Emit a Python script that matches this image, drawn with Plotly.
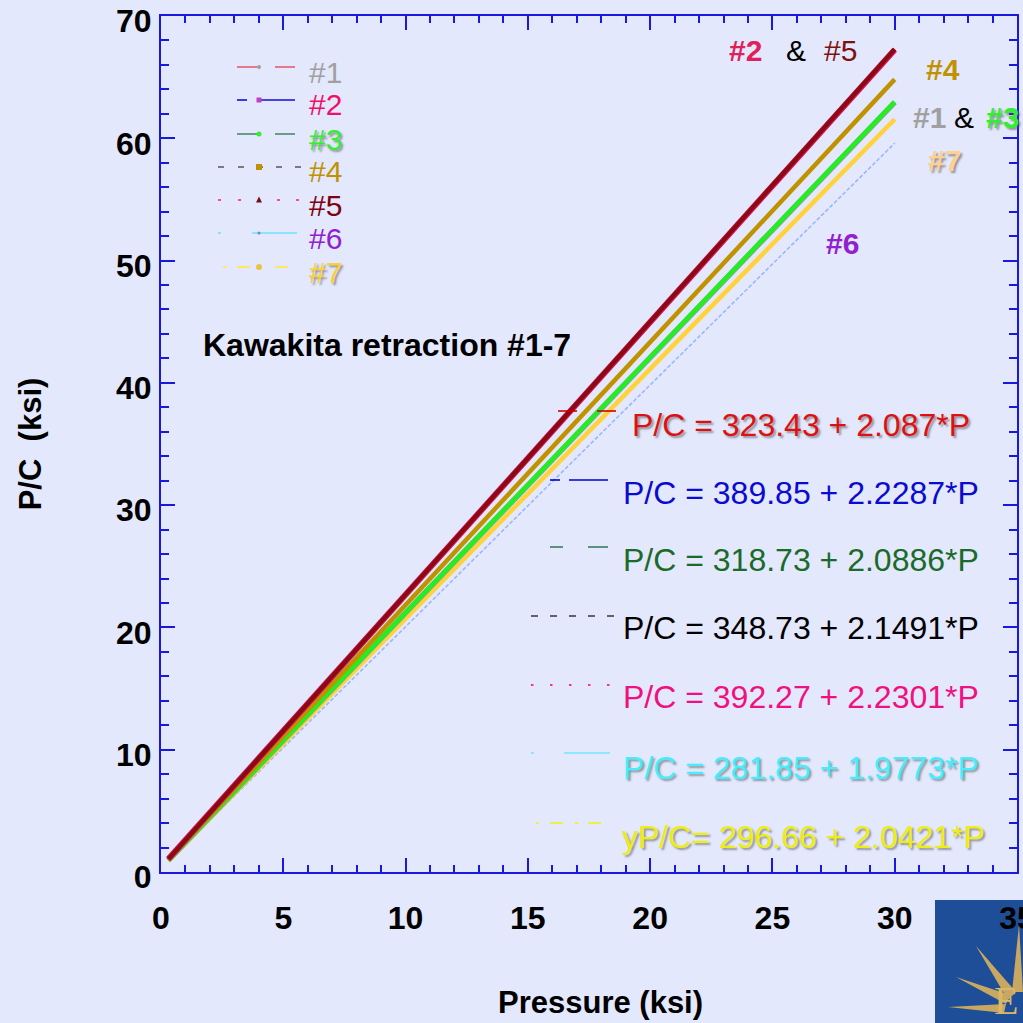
import plotly.graph_objects as go

# ---------------- data ----------------
P = [0.3, 5, 10, 15, 20, 25, 30]  # Pressure (ksi)
pc_1 = [0.95, 10.76, 21.19, 31.63, 42.06, 52.50, 62.93]
pc_2 = [1.06, 11.53, 22.68, 33.82, 44.96, 56.11, 67.25]
pc_3 = [0.95, 10.76, 21.21, 31.65, 42.09, 52.53, 62.98]
pc_4 = [0.99, 11.09, 21.84, 32.59, 43.33, 54.08, 64.82]
pc_5 = [1.06, 11.54, 22.69, 33.84, 44.99, 56.15, 67.30]
pc_6 = [0.88, 10.17, 20.06, 29.94, 39.83, 49.71, 59.60]
pc_7 = [0.91, 10.51, 20.72, 30.93, 41.14, 51.35, 61.56]
series_names = ["#1", "#2", "#3", "#4", "#5", "#6", "#7"]
equations = [
    "P/C = 323.43 + 2.087*P",
    "P/C = 389.85 + 2.2287*P",
    "P/C = 318.73 + 2.0886*P",
    "P/C = 348.73 + 2.1491*P",
    "P/C = 392.27 + 2.2301*P",
    "P/C = 281.85 + 1.9773*P",
    "yP/C= 296.66 + 2.0421*P",
]
x_ticks = [0, 5, 10, 15, 20, 25, 30, 35]
y_ticks = [0, 10, 20, 30, 40, 50, 60, 70]
chart_note = "Kawakita retraction #1-7"
x_title = "Pressure (ksi)"
y_title = "P/C  (ksi)"

series = dict(zip(series_names, [pc_1, pc_2, pc_3, pc_4, pc_5, pc_6, pc_7]))

# ---------------- geometry helpers (pixel -> paper) ----------------
L, R, T, B = 161, 1017, 16, 872
W, H = R - L, B - T


def px(x):
    return (x - L) / W


def py(y):
    return (B - y) / H


FONT = "Liberation Sans, Arial, Helvetica, sans-serif"
BG = "#E3E8FC"
AX = "#1818E0"
SHADOW = "2px 2px 2px rgba(80,80,80,0.55)"

fig = go.Figure()

# draw order & line styles of the plotted data curves
line_styles = {
    "#6": dict(color="#9CB8F2", width=1.6, dash="4px,2px"),
    "#7": dict(color="#FFD23C", width=4.5),
    "#1": dict(color="#9A9A9A", width=5.5),
    "#3": dict(color="#22EE22", width=4.5),
    "#4": dict(color="#C09200", width=4.5),
    "#2": dict(color="#D8145A", width=6),
    "#5": dict(color="#8A0A14", width=4.2),
}
for name in ["#6", "#7", "#1", "#3", "#4", "#2", "#5"]:
    fig.add_trace(go.Scatter(x=P, y=series[name], mode="lines", name=name,
                             line=line_styles[name], showlegend=False))

shapes = []
annotations = []


def seg(x0, x1, y, color, width=1.6):
    shapes.append(dict(type="line", xref="paper", yref="paper",
                       x0=px(x0), x1=px(x1), y0=py(y), y1=py(y),
                       line=dict(color=color, width=width)))


def dot(x, y, color, r=2.5, kind="circle"):
    shapes.append(dict(type=kind, xref="paper", yref="paper",
                       x0=px(x - r), x1=px(x + r), y0=py(y - r), y1=py(y + r),
                       fillcolor=color, line=dict(width=0)))


def text(s, x, y, color, size=30, bold=False, anchor="left", shadow=None, family=FONT):
    f = dict(family=family, size=size, color=color)
    if bold:
        f["weight"] = "bold"
    if shadow:
        f["shadow"] = shadow
    annotations.append(dict(text=s, x=px(x), y=py(y), xref="paper", yref="paper",
                            xanchor=anchor, yanchor="middle", showarrow=False, font=f))


# ---------------- legend (top-left) ----------------
leg_y = [67, 100, 134, 167, 200, 233, 267]
# #1
seg(237, 257, leg_y[0], "#E06070"); seg(275, 295, leg_y[0], "#E06070"); dot(259, leg_y[0], "#A0A0A0", 2)
# #2
seg(237, 247, leg_y[1], "#1010D8"); seg(258, 295, leg_y[1], "#1010D8"); dot(259, leg_y[1], "#C040C0", 2.5, "rect")
# #3
seg(237, 257, leg_y[2], "#4A8A6A"); seg(275, 295, leg_y[2], "#4A8A6A"); dot(259, leg_y[2], "#33EE33", 2.5)
# #4
for x0 in [218, 238, 257, 276, 295]:
    seg(x0, x0 + 6, leg_y[3], "#606060")
dot(259, leg_y[3], "#C09200", 3, "rect")
# #5
for x0 in [218, 238, 277, 296]:
    seg(x0, x0 + 3, leg_y[4], "#FF2090")
shapes.append(dict(type="path", xref="paper", yref="paper",
                   path="M {} {} L {} {} L {} {} Z".format(px(256), py(leg_y[4] + 2.5), px(262), py(leg_y[4] + 2.5),
                                                           px(259), py(leg_y[4] - 3.5)),
                   fillcolor="#7A0A14", line=dict(width=0)))
# #6
seg(218, 221, leg_y[5], "#70E0FF"); seg(252, 297, leg_y[5], "#70E0FF"); dot(259, leg_y[5], "#7090B0", 1.5)
# #7
seg(223, 226, leg_y[6], "#FFE860", 2); seg(237, 250, leg_y[6], "#FFE860", 2)
seg(275, 288, leg_y[6], "#FFE860", 2); dot(259, leg_y[6], "#F0C040", 3)

leg_text_style = [
    dict(color="#A0A0A0"),
    dict(color="#F0106A"),
    dict(color="#33EE33", shadow=SHADOW),
    dict(color="#C09200"),
    dict(color="#800010"),
    dict(color="#9020D0"),
    dict(color="#FFD030", shadow=SHADOW),
]
for name, yy, st in zip(series_names, leg_y, leg_text_style):
    text(name, 307, yy + 5, st["color"], shadow=st.get("shadow"))

# ---------------- note ----------------
text(chart_note, 201, 345, "#000000", size=32, bold=True)

# ---------------- end labels ----------------
text("#2", 727, 51, "#E0205A", bold=True)
text("&", 784, 51, "#000000")
text("#5", 822, 51, "#801010")
text("#4", 924, 70, "#C09200", bold=True)
text("#1", 911, 118, "#A0A0A0", bold=True)
text("&", 952, 118, "#000000")
text("#3", 984, 118, "#33EE33", bold=True, shadow=SHADOW)
text("#7", 926, 160, "#FFD090", bold=True, shadow=SHADOW)
text("#6", 824, 244, "#9020D0", bold=True)

# ---------------- equations with line samples ----------------
eq_y = [425, 493, 560, 628, 697, 768, 837]
eq_x = [630, 621, 621, 621, 621, 621, 620]
eq_style = [
    dict(color="#DD1111", shadow=SHADOW),
    dict(color="#0A0AD0"),
    dict(color="#1A6A2A"),
    dict(color="#000000"),
    dict(color="#F01080"),
    dict(color="#44EEFF", shadow=SHADOW),
    dict(color="#EEEE10", shadow=SHADOW),
]
for s, x, y, st in zip(equations, eq_x, eq_y, eq_style):
    text(s, x, y, st["color"], size=32, shadow=st.get("shadow"))

seg(558, 577, 411, "#D00000"); seg(597, 616, 411, "#D00000")
seg(550, 560, 480, "#0000D0"); seg(569, 608, 480, "#0000D0")
seg(550, 563, 547, "#3A7A5A"); seg(588, 608, 547, "#3A7A5A")
for x0 in [531, 550, 569, 588, 607]:
    seg(x0, x0 + 7, 616, "#404040")
for x0 in [531, 550, 569, 588, 607]:
    seg(x0, x0 + 2.5, 685, "#FF3090", 2)
seg(531, 534, 753, "#70E8FF"); seg(564, 610, 753, "#70E8FF")
seg(536, 539, 823, "#F0F040", 2); seg(550, 563, 823, "#F0F040", 2)
seg(575, 578, 823, "#F0F040", 2); seg(588, 601, 823, "#F0F040", 2)

# ---------------- x axis title ----------------
text(x_title, 600, 1003, "#000000", size=31, bold=True, anchor="center")

# ---------------- logo (bottom-right) ----------------
shapes.append(dict(type="rect", xref="paper", yref="paper", layer="below",
                   x0=px(935), x1=px(1030), y0=py(900), y1=py(1030),
                   fillcolor="#1E4E98", line=dict(width=0)))


def ray(tip, b1, b2):
    path = "M {} {} L {} {} L {} {} Z".format(px(tip[0]), py(tip[1]), px(b1[0]), py(b1[1]),
                                             px(b2[0]), py(b2[1]))
    shapes.append(dict(type="path", xref="paper", yref="paper", layer="below", path=path,
                       fillcolor="#C8A860", line=dict(width=0)))


ray((976, 946), (1008, 1000), (1016, 992))
ray((956, 977), (1006, 1004), (1010, 995))
ray((948, 1007), (1004, 1013), (1006, 1004))
ray((1019, 925), (1012, 992), (1023, 992))
text("E", 1006, 1000, "#D8B868", size=40, anchor="center",
     family="Liberation Serif, Times New Roman, serif")

axis_common = dict(
    showline=True, linecolor=AX, linewidth=2, mirror="ticks",
    ticks="inside", tickcolor=AX, tickwidth=1.5, ticklen=14,
    showgrid=False, zeroline=False, ticklabeloverflow="allow",
    tickfont=dict(family=FONT, size=32, color="#000000", weight="bold"),
    title_font=dict(family=FONT, size=31, color="#000000", weight="bold"),
)

fig.update_layout(
    width=1023, height=1023,
    margin=dict(l=L, r=1023 - R, t=T, b=1023 - B, autoexpand=False),
    paper_bgcolor=BG, plot_bgcolor=BG,
    showlegend=False,
    xaxis=dict(range=[0, 35.0005], tickvals=x_ticks, ticktext=[str(v) for v in x_ticks],
               minor=dict(dtick=1, ticks="inside", ticklen=7, tickcolor=AX, tickwidth=1.5),
               ticklabelstandoff=17, **axis_common),
    yaxis=dict(range=[0, 70.001], tickvals=y_ticks, ticktext=[str(v) for v in y_ticks],
               minor=dict(dtick=2, ticks="inside", ticklen=8, tickcolor=AX, tickwidth=1.5),
               ticklabelstandoff=1, ticklabelshift=5,
               title=dict(text=y_title, standoff=65), **axis_common),
    shapes=shapes,
    annotations=annotations,
)

fig.write_html("out.html")
